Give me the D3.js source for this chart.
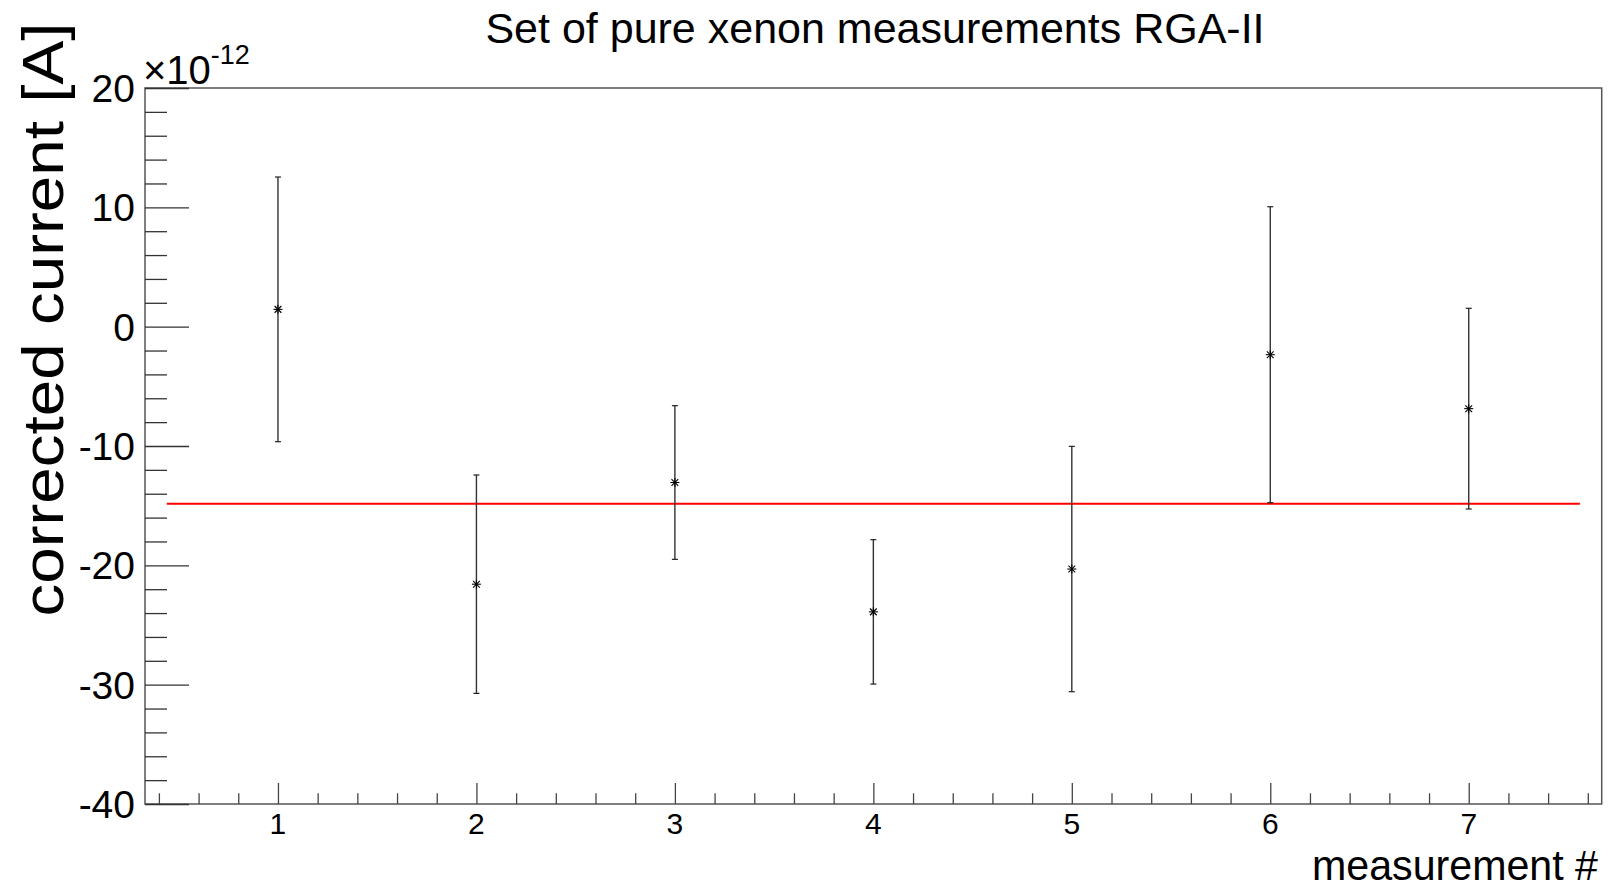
<!DOCTYPE html>
<html>
<head>
<meta charset="utf-8">
<script src="https://cdn.jsdelivr.net/npm/d3@7"></script>
<style>
  html, body { margin: 0; padding: 0; background: #fff; }
  svg { display: block; }
  text { font-family: "Liberation Sans", Arial, Helvetica, sans-serif; fill: #000; }
</style>
</head>
<body>
<script>
// ---- data (values in units of 1e-12 A) ----
const measurements = [1, 2, 3, 4, 5, 6, 7];
const current      = [1.45, -21.58, -13.06, -23.9, -20.31, -2.35, -6.87];
const currentError = [11.09, 9.15, 6.44, 6.05, 10.28, 12.4, 8.41];
const fitValue = -14.84;
const fitRange = [0.44, 7.56];
const xTickLabels = [1, 2, 3, 4, 5, 6, 7];
const yTickLabels = [-40, -30, -20, -10, 0, 10, 20];
const xDomain = [0.33, 7.67];
const yDomain = [-40, 20];

const W = 1608, H = 893;
const frame = { left: 145, right: 1601.7, top: 88, bottom: 804 };

const svg = d3.select("body").append("svg").attr("width", W).attr("height", H);
svg.append("rect").attr("width", W).attr("height", H).attr("fill", "#fff");

const x = d3.scaleLinear().domain(xDomain).range([frame.left, frame.right]);
const y = d3.scaleLinear().domain(yDomain).range([frame.bottom, frame.top]);

// frame
svg.append("rect")
  .attr("x", frame.left).attr("y", frame.top)
  .attr("width", frame.right - frame.left).attr("height", frame.bottom - frame.top)
  .attr("fill", "none").attr("stroke", "#555").attr("stroke-width", 1.5);

// x axis ticks (major + minor)
const xMinor = d3.range(0.4, 7.61, 0.2).map(v => Math.round(v * 10) / 10)
  .filter(v => Math.abs(v - Math.round(v)) > 1e-6);
const xAxisMajor = d3.axisBottom(x).tickValues(xTickLabels).tickSize(-21).tickFormat("");
const xAxisMinor = d3.axisBottom(x).tickValues(xMinor).tickSize(-10.7).tickFormat("");
[xAxisMajor, xAxisMinor].forEach(ax => {
  const g = svg.append("g").attr("transform", `translate(0,${frame.bottom})`).call(ax);
  g.select(".domain").remove();
  g.selectAll("line").attr("stroke", "#444").attr("stroke-width", 1.3);
});
svg.append("g").selectAll("text").data(xTickLabels).join("text")
  .attr("x", d => x(d)).attr("y", 834)
  .attr("text-anchor", "middle").attr("font-size", 30)
  .text(d => d);

// y axis ticks
const yMinor = d3.range(-40, 20.01, 2).filter(v => v % 10 !== 0);
const yAxisMajor = d3.axisLeft(y).tickValues(yTickLabels).tickSize(-44).tickFormat("");
const yAxisMinor = d3.axisLeft(y).tickValues(yMinor).tickSize(-22).tickFormat("");
[yAxisMajor, yAxisMinor].forEach(ax => {
  const g = svg.append("g").attr("transform", `translate(${frame.left},0)`).call(ax);
  g.select(".domain").remove();
  g.selectAll("line").attr("stroke", "#333").attr("stroke-width", 1.3);
});
svg.append("g").selectAll("text").data(yTickLabels).join("text")
  .attr("x", 135).attr("y", d => y(d) + 14)
  .attr("text-anchor", "end").attr("font-size", 39)
  .text(d => d);

// exponent label
const expo = svg.append("text").attr("x", frame.left - 2).attr("y", 84).attr("font-size", 40);
expo.append("tspan").text("\u00d710");
expo.append("tspan").attr("font-size", 27).attr("dy", -20).text("-12");

// title
svg.append("text")
  .attr("x", 875).attr("y", 43)
  .attr("text-anchor", "middle").attr("font-size", 43)
  .text("Set of pure xenon measurements RGA-II");

// axis titles
svg.append("text")
  .attr("x", 1598).attr("y", 880)
  .attr("text-anchor", "end").attr("font-size", 42)
  .attr("textLength", 286).attr("lengthAdjust", "spacingAndGlyphs")
  .text("measurement #");

svg.append("text")
  .attr("transform", "translate(63,22.6) rotate(-90)")
  .attr("text-anchor", "end").attr("font-size", 58)
  .attr("textLength", 594).attr("lengthAdjust", "spacingAndGlyphs")
  .text("corrected current [A]");

// fit line
svg.append("line")
  .attr("x1", x(fitRange[0])).attr("x2", x(fitRange[1]))
  .attr("y1", y(fitValue)).attr("y2", y(fitValue))
  .attr("stroke", "#ff0000").attr("stroke-width", 2);

// error bars and markers
const pts = measurements.map((m, i) => ({ m, v: current[i], e: currentError[i] }));
const g = svg.append("g");
g.selectAll("line.err").data(pts).join("line").attr("class", "err")
  .attr("x1", d => x(d.m)).attr("x2", d => x(d.m))
  .attr("y1", d => y(d.v + d.e)).attr("y2", d => y(d.v - d.e))
  .attr("stroke", "#333").attr("stroke-width", 1.4);
["top", "bot"].forEach(k => {
  g.selectAll("line.cap" + k).data(pts).join("line").attr("class", "cap" + k)
    .attr("x1", d => x(d.m) - 3).attr("x2", d => x(d.m) + 3)
    .attr("y1", d => y(k === "top" ? d.v + d.e : d.v - d.e))
    .attr("y2", d => y(k === "top" ? d.v + d.e : d.v - d.e))
    .attr("stroke", "#222").attr("stroke-width", 1.2);
});
// star markers (ROOT marker style 3)
const star = g.selectAll("g.star").data(pts).join("g").attr("class", "star")
  .attr("transform", d => `translate(${x(d.m)},${y(d.v)})`);
const r = 4.5;
[[-r, 0, r, 0], [0, -r, 0, r], [-r * 0.75, -r * 0.75, r * 0.75, r * 0.75], [-r * 0.75, r * 0.75, r * 0.75, -r * 0.75]]
  .forEach(c => {
    star.append("line").attr("x1", c[0]).attr("y1", c[1]).attr("x2", c[2]).attr("y2", c[3])
      .attr("stroke", "#000").attr("stroke-width", 1.1);
  });
</script>
</body>
</html>
